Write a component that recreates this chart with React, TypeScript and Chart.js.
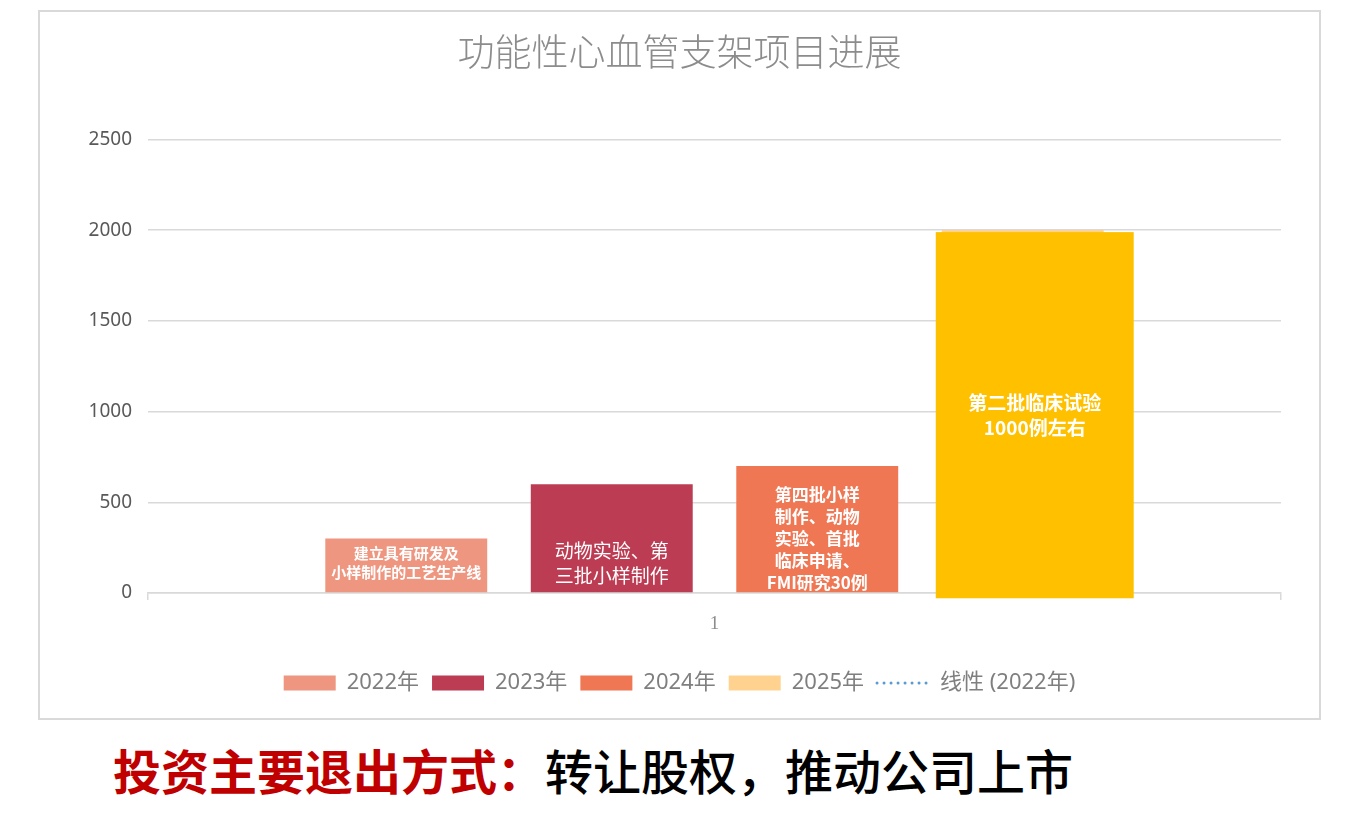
import React, { useEffect, useRef } from "react";
import { Chart, registerables } from "chart.js";

Chart.register(...registerables);

const categories = ["1"];
const seriesNames = ["2022年", "2023年", "2024年", "2025年"];
const seriesValues = [300, 600, 700, 2000];
const seriesColors = ["#EE9680", "#BC3C53", "#EF7754", "#FFD38F"];
const trendName = "线性 (2022年)";
const barLabels: string[][] = [
  ["建立具有研发及", "小样制作的工艺生产线"],
  ["动物实验、第", "三批小样制作"],
  ["第四批小样", "制作、动物", "实验、首批", "临床申请、", "FMI研究30例"],
  ["第二批临床试验", "1000例左右"],
];
const yTicks = [0, 500, 1000, 1500, 2000, 2500];
const titleText = "功能性心血管支架项目进展";

const CJK = '"Noto Sans", "Noto Sans CJK SC", sans-serif';

const labelStyles = [
  { size: 15, weight: "bold", lh: 19, frac: 0.55 },
  { size: 19, weight: "normal", lh: 25, frac: 0.27 },
  { size: 17, weight: "bold", lh: 22, frac: 0.425 },
  { size: 19, weight: "bold", lh: 25, frac: 0.5 },
];

const overlayPlugin = {
  id: "overlayAndLabels",
  afterDatasetsDraw(chart: any) {
    const ctx = chart.ctx;
    ctx.save();
    for (let i = 0; i < 4; i++) {
      const meta = chart.getDatasetMeta(i);
      const el = meta.data[0];
      if (!el) continue;
      const p = el.getProps(["x", "y", "base", "width"], true);
      let top = p.y;
      let bottom = p.base;
      let cx = p.x;
      if (i === 3) {
        const left = p.x - p.width / 2 - 6;
        const w = p.width + 36;
        top = p.y + 2;
        bottom = p.base + 6;
        ctx.fillStyle = "#FFC000";
        ctx.fillRect(left, top, w, bottom - top);
        cx = left + w / 2;
      }
      const st = labelStyles[i];
      const lines = barLabels[i];
      const center = bottom - (bottom - top) * st.frac;
      ctx.fillStyle = "#FFFFFF";
      ctx.font = `${st.weight} ${st.size}px "Noto Sans CJK SC", sans-serif`;
      ctx.textAlign = "center";
      ctx.textBaseline = "middle";
      const start = center - ((lines.length - 1) * st.lh) / 2;
      lines.forEach((t, k) => ctx.fillText(t, cx, start + k * st.lh));
    }
    ctx.restore();
  },
};

export default function App() {
  const ref = useRef<HTMLCanvasElement>(null);
  useEffect(() => {
    if (!ref.current) return;
    const datasets: any[] = seriesNames.map((n, i) => ({
      type: "bar",
      label: n,
      data: [seriesValues[i]],
      backgroundColor: seriesColors[i],
      borderWidth: 0,
      categoryPercentage: 0.7255,
      barPercentage: 0.788,
    }));
    datasets.push({
      type: "line",
      label: trendName,
      data: [],
      borderColor: "#5B9BD5",
      borderDash: [0, 7],
      borderWidth: 3,
      pointRadius: 0,
    });
    const chart = new Chart(ref.current, {
      type: "bar",
      data: { labels: categories, datasets },
      options: {
        animation: false,
        responsive: true,
        maintainAspectRatio: false,
        layout: { padding: { left: 0, right: 0, top: 0, bottom: 14 } },
        plugins: {
          tooltip: { enabled: false },
          title: {
            display: true,
            text: titleText,
            color: "#8C8C8C",
            font: { size: 37, family: '"Noto Sans CJK SC", serif', weight: "300" as any },
            padding: { top: 18, bottom: 65 },
          },
          legend: {
            position: "bottom",
            labels: {
              usePointStyle: true,
              pointStyleWidth: 52,
              boxWidth: 52,
              boxHeight: 15,
              padding: 13,
              color: "#7F7F7F",
              font: { size: 22, family: CJK },
              generateLabels(chart: any) {
                const items = (Chart.defaults.plugins.legend.labels as any).generateLabels(chart);
                return items.map((it: any) => {
                  if (it.datasetIndex < 4) {
                    return { ...it, pointStyle: "rect", lineWidth: 0, strokeStyle: "rgba(0,0,0,0)", fillStyle: seriesColors[it.datasetIndex] };
                  }
                  return { ...it, pointStyle: "line", lineWidth: 3, strokeStyle: "#5B9BD5", fillStyle: "rgba(0,0,0,0)", lineDash: [0, 7], lineCap: "round" };
                });
              },
            },
          },
        },
        scales: {
          x: {
            offset: true,
            grid: { display: true, drawOnChartArea: false, tickLength: 7, color: "#D9D9D9", lineWidth: 1.5 },
            border: { display: true, color: "#D9D9D9", width: 1.5 },
            ticks: { color: "#8C8C8C", font: { size: 19, family: '"Liberation Serif", serif' }, padding: 13 },
            afterFit(scale: any) {
              scale.height = 66;
            },
          },
          y: {
            min: 0,
            max: 2500,
            afterBuildTicks(scale: any) {
              scale.ticks = yTicks.map((v) => ({ value: v }));
            },
            grid: { color: "#D9D9D9", lineWidth: 1.5, drawTicks: false },
            border: { display: false },
            ticks: {
              color: "#595959",
              font: { size: 19, family: CJK },
              padding: 16,
              callback: (v: any) => String(v),
            },
            afterFit(scale: any) {
              scale.width = 108;
            },
          },
          yRight: {
            type: "linear",
            position: "right",
            display: true,
            grid: { display: false, drawTicks: false },
            border: { display: false },
            ticks: { display: false },
            afterFit(scale: any) {
              scale.width = 38;
            },
          },
        },
      },
      plugins: [overlayPlugin],
    });
    return () => chart.destroy();
  }, []);

  return (
    <div style={{ position: "relative", width: 1347, height: 800 }}>
      <div
        style={{
          position: "absolute",
          left: 30,
          top: 2,
          width: 1279,
          height: 706,
          border: "2px solid #D9D9D9",
          background: "#fff",
        }}
      >
        <canvas ref={ref} />
      </div>
      <div
        style={{
          position: "absolute",
          left: 105,
          top: 737,
          fontSize: 48,
          lineHeight: "48px",
          whiteSpace: "nowrap",
          fontFamily: '"Noto Sans CJK SC", sans-serif',
        }}
      >
        <span style={{ color: "#C00000", fontWeight: 700 }}>投资主要退出方式：</span>
        <span style={{ color: "#000000", fontWeight: 500 }}>转让股权，推动公司上市</span>
      </div>
    </div>
  );
}
